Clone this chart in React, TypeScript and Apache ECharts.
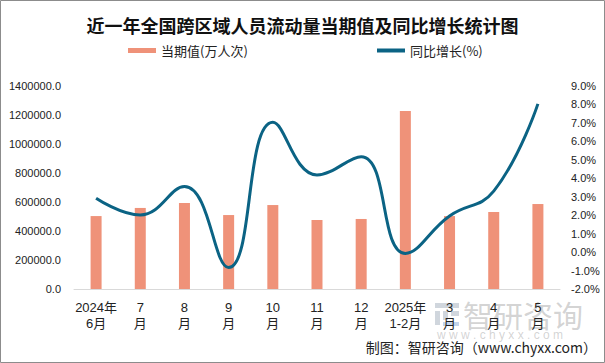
import React, { useEffect, useRef } from "react";
import * as echarts from "echarts";

const categories = [
  "2024年\n6月",
  "7\n月",
  "8\n月",
  "9\n月",
  "10\n月",
  "11\n月",
  "12\n月",
  "2025年\n1-2月",
  "3\n月",
  "4\n月",
  "5\n月",
];
const currentValues = [503000, 559000, 593000, 510000, 579000, 476000, 483000, 1227000, 503000, 531000, 586000];
const yoyGrowth = [2.92, 2.01, 3.55, -0.84, 7.03, 4.18, 5.17, -0.07, 1.96, 3.3, 8.03];
const barName = "当期值(万人次)";
const lineName = "同比增长(%)";
const titleText = "近一年全国跨区域人员流动量当期值及同比增长统计图";
const footerText = "制图：智研咨询（www.chyxx.com）";

const FONT = "'Liberation Sans', 'Noto Sans CJK SC', sans-serif";
const CJK = "'Noto Sans CJK SC', sans-serif";

export default function App() {
  const ref = useRef<HTMLDivElement>(null);
  useEffect(() => {
    document.body.style.margin = "0";
    if (!ref.current) return;
    const chart = echarts.init(ref.current, null, { renderer: "svg" });
    const wm = "rgba(150,165,180,0.45)";
    chart.setOption({
      animation: false,
      backgroundColor: "#fff",
      title: {
        text: titleText,
        left: "center",
        top: 11,
        textStyle: { fontSize: 18, fontWeight: "bold", color: "#111", fontFamily: CJK },
      },
      legend: [
        {
          data: [{ name: barName, icon: "rect" }],
          left: 128,
          top: 44,
          padding: 0,
          itemWidth: 28,
          itemHeight: 5,
          textStyle: { fontSize: 13, color: "#222", fontFamily: CJK },
        },
        {
          data: [{ name: lineName, icon: "rect" }],
          left: 377,
          top: 44,
          padding: 0,
          itemWidth: 28,
          itemHeight: 4,
          textStyle: { fontSize: 13, color: "#222", fontFamily: CJK },
        },
      ],
      grid: { left: 74, right: 45, top: 86, bottom: 74 },
      xAxis: {
        type: "category",
        data: categories,
        axisLine: { lineStyle: { color: "#d9d9d9", width: 1 } },
        axisTick: { show: false },
        axisLabel: {
          interval: 0,
          fontSize: 13,
          lineHeight: 16,
          margin: 10,
          color: "#222",
          fontFamily: FONT,
        },
      },
      yAxis: [
        {
          type: "value",
          min: 0,
          max: 1400000,
          interval: 200000,
          splitLine: { show: false },
          axisLine: { show: false },
          axisTick: { show: false },
          axisLabel: {
            fontSize: 11,
            margin: 13,
            color: "#222",
            fontFamily: FONT,
            formatter: (v: number) => v.toFixed(1),
          },
        },
        {
          type: "value",
          min: -2,
          max: 9,
          interval: 1,
          splitLine: { show: false },
          axisLine: { show: false },
          axisTick: { show: false },
          axisLabel: {
            fontSize: 11,
            margin: 11,
            color: "#222",
            fontFamily: FONT,
            formatter: (v: number) => v.toFixed(1) + "%",
          },
        },
      ],
      series: [
        {
          name: barName,
          type: "bar",
          data: currentValues,
          barWidth: 11,
          itemStyle: { color: "#EF9279" },
        },
        {
          name: lineName,
          type: "line",
          yAxisIndex: 1,
          data: yoyGrowth,
          smooth: 0.45,
          showSymbol: false,
          symbol: "none",
          lineStyle: { color: "#0B6384", width: 3 },
          itemStyle: { color: "#0B6384" },
        },
      ],
      graphic: [
        {
          type: "rect",
          shape: { x: 0.5, y: 0.5, width: 604, height: 362 },
          style: { fill: "none", stroke: "#8c8c8c", lineWidth: 1 },
          silent: true,
        },
        {
          type: "group",
          left: 435,
          top: 303,
          silent: true,
          children: [
            { type: "rect", shape: { x: 0, y: 0, width: 24, height: 5 }, style: { fill: wm } },
            { type: "rect", shape: { x: 0, y: 8, width: 5, height: 14 }, style: { fill: wm } },
            { type: "rect", shape: { x: 8, y: 8, width: 5, height: 9 }, style: { fill: wm } },
            { type: "rect", shape: { x: 16, y: 8, width: 8, height: 5 }, style: { fill: wm } },
            { type: "rect", shape: { x: 8, y: 19, width: 16, height: 4 }, style: { fill: "rgba(120,160,210,0.45)" } },
          ],
        },
        {
          type: "text",
          left: 463,
          top: 299,
          silent: true,
          style: { text: "智研咨询", fontSize: 30, fill: "rgba(150,150,150,0.42)", fontFamily: CJK },
        },
        {
          type: "text",
          left: 437,
          top: 329,
          silent: true,
          style: { text: "w w w . c h y x x . c o m", fontSize: 12, fill: "rgba(150,150,150,0.42)", fontFamily: FONT },
        },
        {
          type: "text",
          right: 8,
          top: 340,
          silent: true,
          style: { text: footerText, fontSize: 14, fill: "#222", fontFamily: CJK },
        },
      ],
    });
    return () => chart.dispose();
  }, []);
  return <div ref={ref} style={{ width: 605, height: 363 }} />;
}
